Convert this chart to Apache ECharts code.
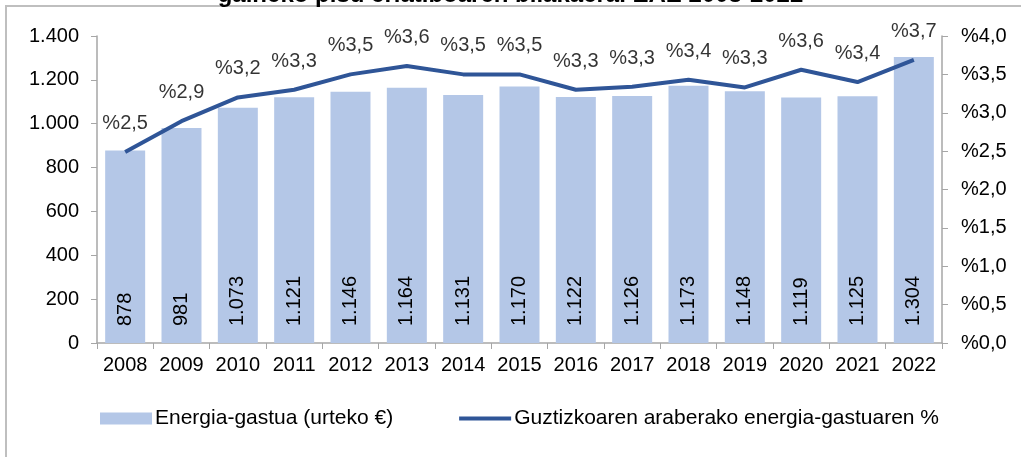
<!DOCTYPE html>
<html>
<head>
<meta charset="utf-8">
<script src="https://cdn.jsdelivr.net/npm/echarts@6/dist/echarts.min.js"></script>
<style>
  html, body { margin: 0; padding: 0; background: #fff; }
  #main { width: 1021px; height: 457px; }
</style>
</head>
<body>
<div id="main"></div>
<script>
// urteak
var years = ['2008','2009','2010','2011','2012','2013','2014','2015','2016','2017','2018','2019','2020','2021','2022'];
// energia-gastua (urteko €)
var gastua = [878, 981, 1073, 1121, 1146, 1164, 1131, 1170, 1122, 1126, 1173, 1148, 1119, 1125, 1304];
// guztizkoaren araberako %
var ehunekoa = [2.49, 2.89, 3.2, 3.3, 3.5, 3.61, 3.5, 3.5, 3.3, 3.34, 3.43, 3.33, 3.56, 3.4, 3.69];

var font = 'Liberation Sans, Arial, sans-serif';
var axisGray = '#a6a6a6';
var lineColor = '#2f5597';

function milaka(v) {
  return String(v).replace(/\B(?=(\d{3})+(?!\d))/g, '.');
}
function ehuneko(v) {
  return '%' + v.toFixed(1).replace('.', ',');
}

var chart = echarts.init(document.getElementById('main'));
var option = {
  animation: false,
  textStyle: { fontFamily: font },
  title: {
    text: 'gaineko pisu erlatiboaren bilakaera. EAE 2008-2022',
    left: 'center',
    top: -22,
    textStyle: { fontSize: 24, fontWeight: 'bold', color: '#000', fontFamily: font }
  },
  graphic: [{
    type: 'polyline',
    shape: { points: [[6, 457], [6, 6], [1021, 6]] },
    style: { stroke: '#bfbfbf', lineWidth: 2, fill: null },
    silent: true
  }],
  legend: {
    left: 95,
    top: 403,
    itemWidth: 52,
    itemHeight: 12,
    itemGap: 64,
    textStyle: { fontSize: 21, color: '#000', fontFamily: font, padding: [0, 0, 0, -2] },
    data: [
      { name: 'Energia-gastua (urteko €)', icon: 'rect' },
      { name: 'Guztizkoaren araberako energia-gastuaren %', itemStyle: { opacity: 0 }, lineStyle: { width: 4 } }
    ]
  },
  grid: { left: 97, right: 79, top: 36, bottom: 114 },
  xAxis: {
    type: 'category',
    data: years,
    axisLine: { lineStyle: { color: axisGray, width: 1.5 } },
    axisTick: { show: true, length: 6, lineStyle: { color: axisGray } },
    axisLabel: { fontSize: 20, color: '#000', margin: 12, interval: 0 }
  },
  yAxis: [{
    type: 'value',
    min: 0, max: 1400, interval: 200,
    splitLine: { show: false },
    axisLine: { show: true, lineStyle: { color: axisGray, width: 1.5 } },
    axisTick: { show: true, length: 6, lineStyle: { color: axisGray } },
    axisLabel: { fontSize: 20, color: '#000', margin: 18, formatter: milaka }
  }, {
    type: 'value',
    min: 0, max: 4, interval: 0.5,
    splitLine: { show: false },
    axisLine: { show: true, lineStyle: { color: axisGray, width: 1.5 } },
    axisTick: { show: true, length: 6, lineStyle: { color: axisGray } },
    axisLabel: { fontSize: 20, color: '#000', margin: 19, formatter: ehuneko }
  }],
  series: [{
    name: 'Energia-gastua (urteko €)',
    type: 'bar',
    data: gastua,
    barCategoryGap: '29%',
    itemStyle: { color: '#b4c7e7' },
    label: {
      show: true,
      position: 'insideBottom',
      rotate: 90,
      align: 'left',
      verticalAlign: 'middle',
      distance: 17,
      fontSize: 20,
      color: '#000',
      formatter: function (p) { return milaka(p.value); }
    }
  }, {
    name: 'Guztizkoaren araberako energia-gastuaren %',
    type: 'line',
    yAxisIndex: 1,
    data: ehunekoa,
    symbol: 'none',
    lineStyle: { color: lineColor, width: 4 },
    itemStyle: { color: lineColor }
  }, {
    // etiketak lerroaren gainean
    name: 'etiketak',
    type: 'scatter',
    yAxisIndex: 1,
    data: ehunekoa,
    symbolSize: 1,
    itemStyle: { color: 'rgba(0,0,0,0)' },
    silent: true,
    label: {
      show: true,
      position: 'top',
      distance: 18,
      fontSize: 20,
      color: '#000',
      formatter: function (p) { return ehuneko(p.value[1] !== undefined ? p.value[1] : p.value); }
    }
  }]
};
chart.setOption(option);
</script>
</body>
</html>
